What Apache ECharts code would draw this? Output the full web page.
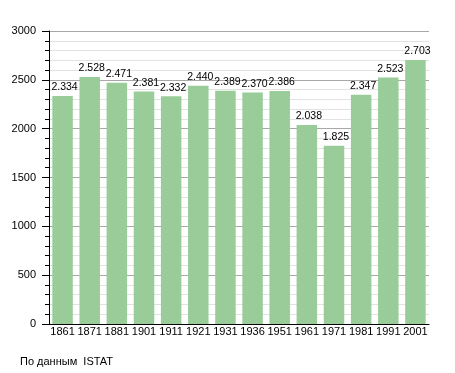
<!DOCTYPE html>
<html>
<head>
<meta charset="utf-8">
<script src="https://cdn.jsdelivr.net/npm/echarts@6/dist/echarts.min.js"></script>
<style>
html,body{margin:0;padding:0;background:#fff;}
#chart{width:455px;height:373px;}
</style>
</head>
<body>
<div id="chart"></div>
<script>
const years = ['1861','1871','1881','1901','1911','1921','1931','1936','1951','1961','1971','1981','1991','2001'];
const population = [2334, 2528, 2471, 2381, 2332, 2440, 2389, 2370, 2386, 2038, 1825, 2347, 2523, 2703];
const yTicks = [0, 500, 1000, 1500, 2000, 2500, 3000];
const sourceText = 'По данным  ISTAT';

const FONT = '"Liberation Sans", Arial, sans-serif';
const chart = echarts.init(document.getElementById('chart'), null, {renderer: 'canvas'});
chart.setOption({
  animation: false,
  backgroundColor: '#ffffff',
  textStyle: {fontFamily: FONT},
  grid: {left: 49, right: 26, top: 31, bottom: 49, containLabel: false},
  graphic: [{
    type: 'text', left: 20, top: 356,
    style: {text: sourceText, font: '11px ' + FONT, fill: '#000'}
  }],
  xAxis: {
    type: 'category',
    data: years,
    axisLine: {lineStyle: {color: '#000', width: 1}},
    axisTick: {show: false},
    axisLabel: {color: '#000', fontSize: 11, margin: 2, fontFamily: FONT, interval: 0}
  },
  yAxis: {
    type: 'value',
    min: yTicks[0],
    max: yTicks[yTicks.length - 1],
    interval: 500,
    axisLine: {show: true, lineStyle: {color: '#000', width: 1}},
    axisTick: {show: true, length: 7, lineStyle: {color: '#000'}},
    minorTick: {show: true, splitNumber: 5, length: 4, lineStyle: {color: '#000'}},
    axisLabel: {color: '#000', fontSize: 11, margin: 13, fontFamily: FONT, formatter: v => String(v)},
    splitLine: {show: true, lineStyle: {color: '#a8a8a8', width: 1}},
    minorSplitLine: {show: true, lineStyle: {color: '#e2e2e2', width: 1}}
  },
  series: [{
    type: 'bar',
    data: population,
    barWidth: 20.5,
    itemStyle: {color: '#99cc99'},
    label: {
      show: true,
      position: 'top',
      distance: 3,
      offset: [2, 0],
      color: '#000',
      fontSize: 10.5,
      fontFamily: FONT,
      formatter: p => String(p.value).replace(/\B(?=(\d{3})+(?!\d))/g, '.')
    }
  }]
});
</script>
</body>
</html>
